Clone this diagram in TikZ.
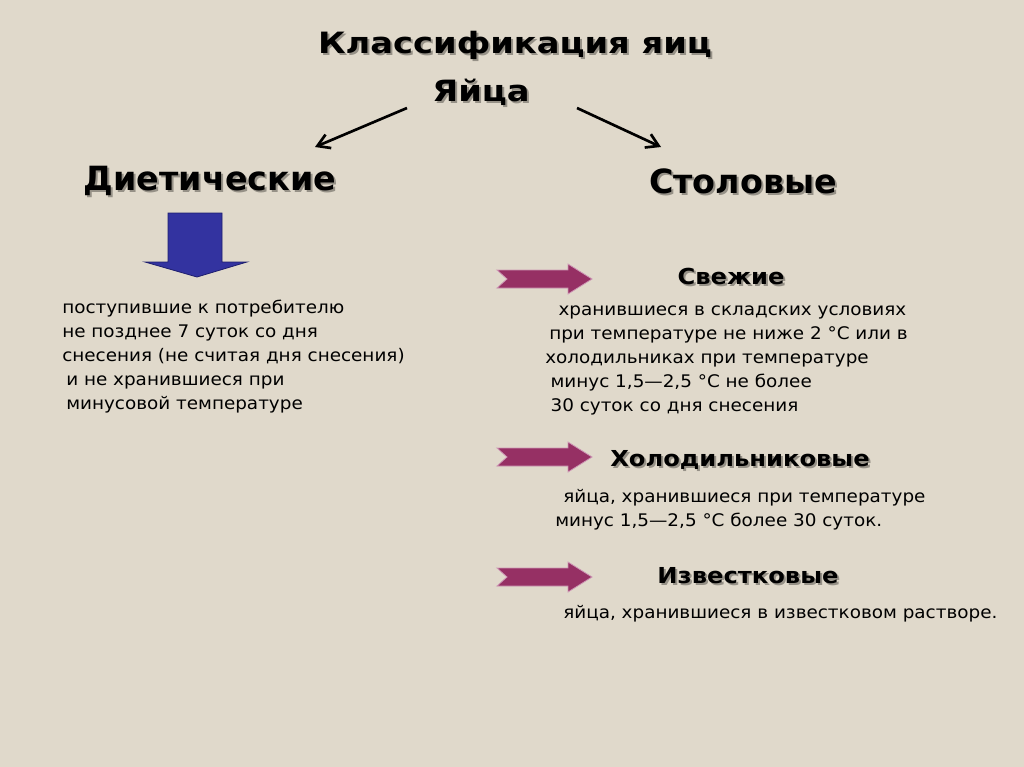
\documentclass[tikz,border=0pt]{standalone}
\usepackage{fontspec}
\setmainfont{DejaVu Sans}
\newfontfamily\widefont[FakeStretch=1.15]{DejaVu Sans}
\newfontfamily\subfont[FakeStretch=1.1]{DejaVu Sans}
\newfontfamily\bodyfont[FakeStretch=1.06]{DejaVu Sans}
\usetikzlibrary{arrows.meta}
\definecolor{bg}{RGB}{224,217,203}
\definecolor{shadowc}{RGB}{150,145,135}
\definecolor{blueA}{RGB}{51,51,160}
\definecolor{blueE}{RGB}{30,30,110}
\definecolor{magA}{RGB}{150,48,100}
\definecolor{magE}{RGB}{205,150,180}
\newcommand\shd[1]{\makebox[0pt][l]{\textcolor{shadowc}{\raisebox{-1.5pt}{\hspace{1.5pt}#1}}}#1}
\tikzset{
  title/.style={font=\widefont\fontsize{22}{26}\selectfont\bfseries, inner sep=0pt},
  cat/.style={font=\fontsize{25}{28}\selectfont\bfseries, inner sep=0pt},
  sub/.style={font=\subfont\fontsize{16.5}{20}\selectfont\bfseries, inner sep=0pt},
  body/.style={font=\bodyfont\fontsize{13}{18}\selectfont, inner sep=0pt, align=left, anchor=north west},
  blk/.style={-{Straight Barb[length=9pt,width=11pt,line width=2pt]}, line width=2pt, black},
  magarrow/.style={fill=magA, draw=magE, line width=0.6pt},
}
\newcommand\magarrow[1]{%
  \path[magarrow, shift={(0,#1)}] (497,-9) -- (568,-9) -- (568,-15) -- (592,0) -- (568,15) -- (568,9) -- (497,9) -- (507,0) -- cycle;}
\begin{document}
\begin{tikzpicture}[x=0.75pt,y=-0.75pt]
\fill[bg] (0,0) rectangle (1024,767);
\useasboundingbox (0,0) rectangle (1024,767);

\node[title] (t1) at (515,46) {\shd{Классификация яиц}};
\node[title] (t2) at (481,93) {\shd{Яйца}};

\node[cat] (diet) at (210,182) {\shd{Диетические}};
\node[cat] (stol) at (743,182) {\shd{Столовые}};

\coordinate (la) at (407,108);
\coordinate (lb) at (315,147);
\coordinate (ra) at (577,108);
\coordinate (rb) at (661,147);
\draw[blk] (la) -- (lb);
\draw[blk] (ra) -- (rb);

% blue down arrow
\path[fill=blueA, draw=blueE, line width=0.6pt]
  (168,213) -- (222,213) -- (222,262) -- (247,262) -- (197,277) -- (145,262) -- (168,262) -- cycle;

\node[body] (dtext) at (62,300) {поступившие к потребителю\\
не позднее 7 суток со дня\\
снесения (не считая дня снесения)\\
\hspace{3pt}и не хранившиеся при\\
\hspace{3pt}минусовой температуре};

\magarrow{279}
\node[sub] (fresh) at (731,277) {\shd{Свежие}};
\node[body] (ftext) at (545,306) {\hspace{10pt}хранившиеся в складских условиях\\
\hspace{3pt}при температуре не ниже 2 °С или в\\
холодильниках при температуре\\
\hspace{4pt}минус 1,5—2,5 °С не более\\
\hspace{4pt}30 суток со дня снесения};

\magarrow{457}
\node[sub] (cold) at (740,461) {\shd{Холодильниковые}};
\node[body] (ctext) at (555,489) {\hspace{6pt}яйца, хранившиеся при температуре\\
минус 1,5—2,5 °С более 30 суток.};

\magarrow{577}
\node[sub] (lime) at (748,577) {\shd{Известковые}};
\node[body] (ltext) at (563,605) {яйца, хранившиеся в известковом растворе.};
\end{tikzpicture}
\end{document}
